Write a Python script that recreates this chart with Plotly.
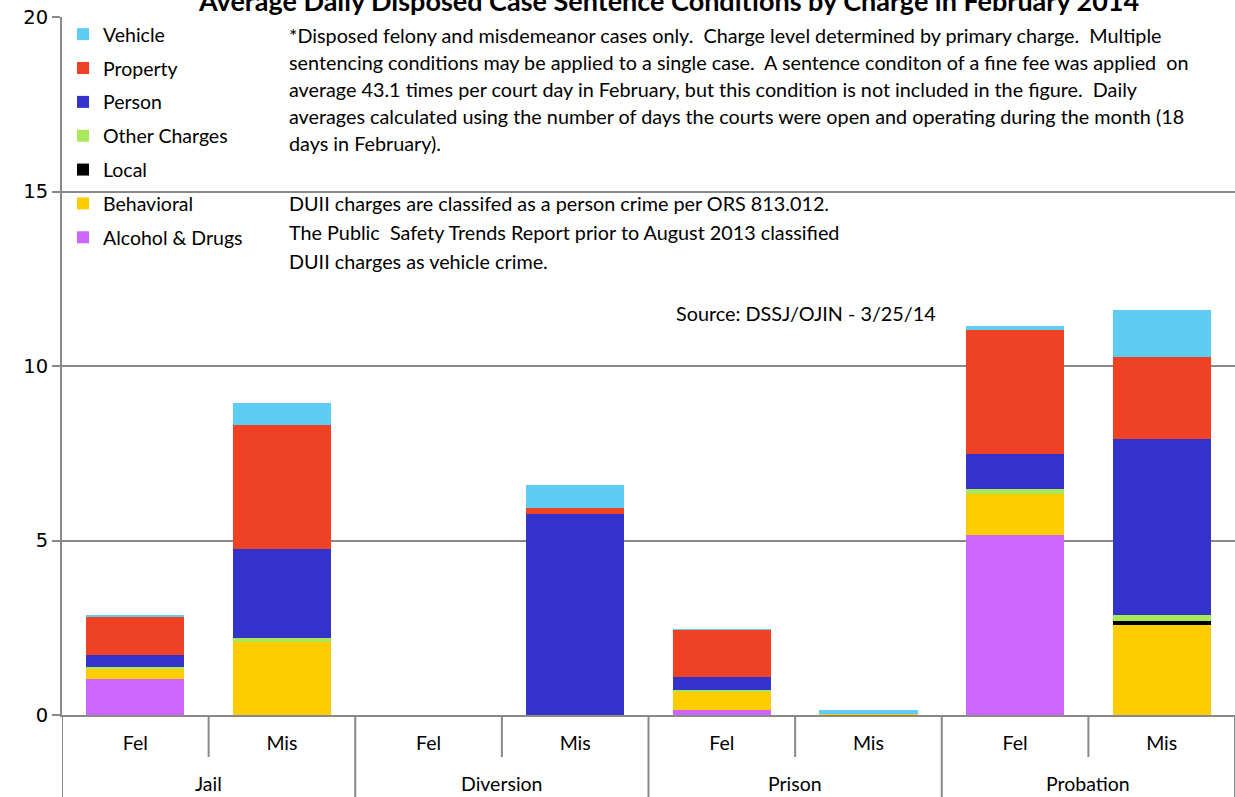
import plotly.graph_objects as go

# categories (outer level / inner level)
sentence = ["Jail", "Jail", "Diversion", "Diversion", "Prison", "Prison", "Probation", "Probation"]
level = ["Fel", "Mis", "Fel", "Mis", "Fel", "Mis", "Fel", "Mis"]

# average daily conditions, stacked bottom -> top
alcohol_drugs = [1.03, 0, 0, 0, 0.14, 0, 5.15, 0]
behavioral = [0.29, 2.09, 0, 0, 0.52, 0.04, 1.17, 2.58]
local = [0, 0, 0, 0, 0, 0, 0, 0.11]
other_charges = [0.05, 0.11, 0, 0, 0.06, 0, 0.16, 0.17]
person = [0.34, 2.56, 0, 5.75, 0.37, 0, 1.00, 5.06]
property_ = [1.10, 3.55, 0, 0.19, 1.35, 0, 3.55, 2.34]
vehicle = [0.06, 0.63, 0, 0.65, 0.01, 0.11, 0.11, 1.34]

series = [
    ("Alcohol & Drugs", alcohol_drugs, "#CC66FF"),
    ("Behavioral", behavioral, "#FFCC00"),
    ("Local", local, "#000000"),
    ("Other Charges", other_charges, "#A9E85B"),
    ("Person", person, "#3333CC"),
    ("Property", property_, "#EF4224"),
    ("Vehicle", vehicle, "#5FCDF3"),
]

FONT = "Lato"
FS = 19.5
GRAY = "#898989"

cats = [f"{s} {l}" for s, l in zip(sentence, level)]

fig = go.Figure()
for i, (name, vals, color) in enumerate(series):
    fig.add_trace(go.Bar(
        x=cats,
        y=vals,
        name=name,
        legendgroup=name,
        legendrank=len(series) - i,
        marker=dict(color=color, line=dict(width=0)),
    ))

plot_top, plot_bot, plot_l, plot_r = 17, 715, 62, 1235


def py(pix):
    return (plot_bot - pix) / (plot_bot - plot_top)


def px(pix):
    return (pix - plot_l) / (plot_r - plot_l)


# dividers: long ones between sentence groups, short ones between Fel/Mis
groups = []
for i, s in enumerate(sentence):
    if not groups or groups[-1][0] != s:
        groups.append([s, i, i])
    else:
        groups[-1][2] = i
for s, a, b in groups:
    fig.add_shape(type="line", xref="x", yref="paper", x0=a - 0.5, x1=a - 0.5,
                  y0=0, y1=py(800), line=dict(color=GRAY, width=2))
    for k in range(a, b):
        fig.add_shape(type="line", xref="x", yref="paper", x0=k + 0.5, x1=k + 0.5,
                      y0=0, y1=py(757), line=dict(color=GRAY, width=2))
fig.add_shape(type="line", xref="x", yref="paper", x0=len(cats) - 0.5, x1=len(cats) - 0.5,
              y0=0, y1=py(800), line=dict(color=GRAY, width=2))

notes1 = [
    "*Disposed felony and misdemeanor cases only.\u00a0 Charge level determined by primary charge.\u00a0 Multiple",
    "sentencing conditions may be applied to a single case.\u00a0 A sentence conditon of a fine fee was applied\u00a0 on",
    "average 43.1 times per court day in February, but this condition is not included in the figure.\u00a0 Daily",
    "averages calculated using the number of days the courts were open and operating during the month (18",
    "days in February).",
]
notes2 = [
    "DUII charges are classifed as a person crime per ORS 813.012.",
    "The Public\u00a0 Safety Trends Report prior to August 2013 classified",
    "DUII charges as vehicle crime.",
]

txt = dict(family=FONT, size=FS, color="black")
note_font = dict(family=FONT, size=19.8, color="black")
annotations = []
for i, t in enumerate(notes1):
    annotations.append(dict(text=t, x=px(287), y=py(35 + 27 * i), xref="paper", yref="paper",
                            xanchor="left", yanchor="middle", showarrow=False, font=note_font))
for i, t in enumerate(notes2):
    annotations.append(dict(text=t, x=px(287), y=py(203 + 29 * i), xref="paper", yref="paper",
                            xanchor="left", yanchor="middle", showarrow=False, font=note_font))
annotations.append(dict(text="Source: DSSJ/OJIN - 3/25/14", x=px(674), y=py(313),
                        xref="paper", yref="paper", xanchor="left", yanchor="middle",
                        showarrow=False, font=note_font))
for s, a, b in groups:
    annotations.append(dict(text=s, x=(a + b) / 2, y=py(784), xref="x", yref="paper",
                            xanchor="center", yanchor="middle", showarrow=False, font=txt))
annotations.append(dict(text="<b>Average Daily Disposed Case Sentence Conditions by Charge in February 2014</b>",
                        x=px(668), y=1, xref="paper", yref="paper", xanchor="center",
                        yanchor="bottom", yshift=-2, showarrow=False,
                        font=dict(family=FONT, size=27, color="black")))

fig.update_layout(
    barmode="stack",
    bargap=0.33,
    width=1235,
    height=797,
    margin=dict(l=62, r=0, t=17, b=82),
    paper_bgcolor="white",
    plot_bgcolor="white",
    font=dict(family=FONT, size=FS, color="black"),
    annotations=annotations,
    showlegend=True,
    legend=dict(
        x=px(63), y=py(15), xanchor="left", yanchor="top",
        traceorder="grouped", tracegroupgap=5.5,
        bgcolor="rgba(0,0,0,0)", font=dict(family=FONT, size=FS),
    ),
)

fig.update_yaxes(
    range=[0, 20], dtick=5, showgrid=True, gridcolor=GRAY, gridwidth=1.5,
    showline=True, linecolor=GRAY, linewidth=2, zeroline=False,
    ticks="outside", ticklen=8, tickcolor=GRAY, tickwidth=1.5,
    tickfont=dict(family="DejaVu Sans", size=19.5, color="black"),
)
fig.update_xaxes(
    type="category", range=[-0.5, len(cats) - 0.5],
    tickvals=cats, ticktext=level, ticks="", ticklabelstandoff=10,
    showline=True, linecolor=GRAY, linewidth=2,
    tickfont=txt,
)

fig.write_html("out.html", config={"displayModeBar": False},
               post_script="document.body.style.margin='0';document.body.style.overflow='hidden';")
